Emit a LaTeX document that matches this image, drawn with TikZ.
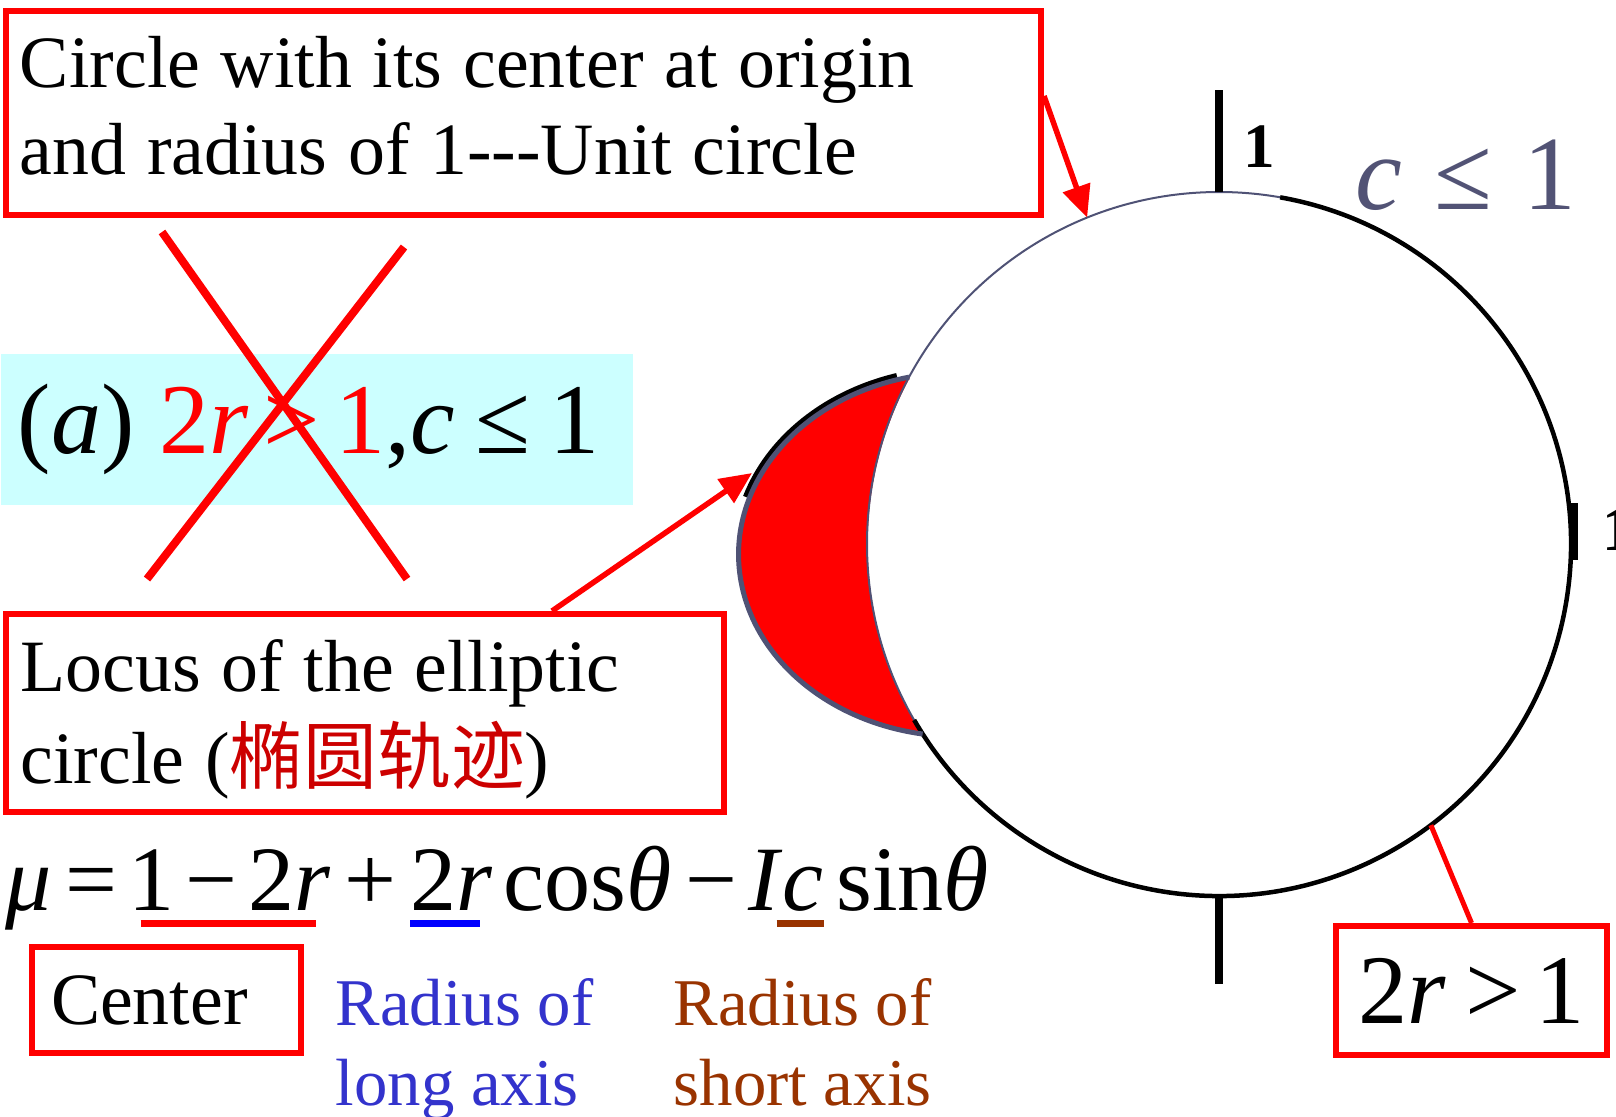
\documentclass[tikz,border=0pt]{standalone}
\usepackage{fontspec}
\setmainfont{Liberation Serif}
\newfontfamily\cjkfont{Noto Sans CJK SC}
\usetikzlibrary{arrows.meta,positioning,calc}
\definecolor{boxRed}{HTML}{FF0000}
\definecolor{lociRed}{HTML}{CC0000}
\definecolor{rimGrey}{HTML}{4F5275}
\definecolor{condGrey}{HTML}{525375}
\definecolor{panelCyan}{HTML}{CCFFFF}
\definecolor{longBlue}{HTML}{3333CC}
\definecolor{lineBlue}{HTML}{0000FF}
\definecolor{shortBrown}{HTML}{993300}
% coloured underline: colour, left inset, right inset, text
\newcommand\colul[4]{\setbox0=\hbox{#4}\dimen2=\wd0\advance\dimen2 by -#2\advance\dimen2 by -#3%
  \rlap{\hspace{#2}\textcolor{#1}{\rule[-4.8pt]{\dimen2}{2pt}}}\box0}
\newcommand\tightsp{\spaceskip=0.28em\relax}
\tikzset{
  redbox/.style={rectangle, draw=boxRed, line width=0.6mm, inner ysep=0pt, anchor=north west, align=left},
  freetext/.style={inner sep=0pt, anchor=base west, align=left},
  redarrow/.style={-{Triangle[length=3.2mm,width=2.8mm]}, draw=boxRed, line width=0.55mm},
  redline/.style={draw=boxRed, line width=0.5mm},
  crossline/.style={draw=boxRed, line width=0.8mm},
  tickline/.style={draw=black, line width=0.75mm},
  ticklabel/.style={font=\fontsize{18}{18}\selectfont\bfseries, inner sep=0pt, anchor=base west},
}

\begin{document}
\begin{tikzpicture}[x=0.1mm,y=-0.1mm]
  \useasboundingbox (0,0) rectangle (1616,1116);

  % Unit circle and the elliptic locus
  \coordinate (O) at (1219,544);
  \coordinate (E) at (958.5,554.3);
  \fill[boxRed] (O) ++(208.3:352) arc[start angle=257, end angle=99.4, x radius=220, y radius=182]
    arc[start angle=147.5, end angle=208.3, radius=352] -- cycle;
  \draw[rimGrey, line width=0.2mm] (O) circle[radius=352];
  \draw[black, line width=0.45mm] (O) ++(-80:352) arc[start angle=-80, end angle=150, radius=352];
  \draw[black, line width=0.5mm] (E) ++(254:224 and 186) arc[start angle=254, end angle=198, x radius=224, y radius=186];
  \draw[rimGrey, line width=0.5mm] (O) ++(208.3:352) arc[start angle=257, end angle=99.4, x radius=220, y radius=182];

  % Axis ticks
  \draw[tickline] (O) ++(0,-352) coordinate (ytop) -- ++(0,-102);
  \draw[tickline] (O) ++(0,352) coordinate (ybot) -- ++(0,88);
  \draw[tickline] (1574,503) -- (1574,560);
  \node[ticklabel] (onetop) at (1243,167) {1};
  \node[ticklabel] (oneright) at (1602,550) {1};
  \node[freetext, text=condGrey, font=\fontsize{30}{30}\selectfont] (cright) at (1355,209) {\textit{c}\hspace{0.3em}≤\hspace{0.3em}1};

  % Boxes with labels
  \node[redbox, minimum width=103.5mm, minimum height=20.4mm, text width=100.7mm, inner xsep=1.4mm,
    font=\fontsize{21}{24.8}\selectfont] (unitbox) at (3,8)
    {\tightsp Circle with its center at origin\\\tightsp and radius of 1-{}-{}-Unit circle\rule[-1.6mm]{0pt}{0pt}};
  \node[rectangle, fill=panelCyan, anchor=north west, minimum width=61.5mm, minimum height=15.1mm,
    text width=59.8mm, inner xsep=1.7mm, inner ysep=0pt, align=left, font=\fontsize{28.5}{28.5}\selectfont] (casepanel) at (0,353)
    {(\textit{a})\hspace{0.25em}\textcolor{boxRed}{2\textit{r}\hspace{0.15em}>\hspace{0.15em}1},\textit{c}\hspace{0.2em}≤\hspace{0.2em}1};
  \node[redbox, minimum width=71.8mm, minimum height=19.8mm, text width=68.9mm, inner xsep=1.45mm,
    font=\fontsize{21}{26.3}\selectfont] (locibox) at (3,611)
    {\tightsp\rule{0pt}{6.5mm}Locus of the elliptic\\\tightsp circle (\textcolor{lociRed}{\cjkfont 椭圆轨迹})};
  \node[redbox, minimum width=26.9mm, minimum height=10.6mm, text width=24.9mm, inner xsep=1mm,
    font=\fontsize{21}{21}\selectfont] (centerbox) at (29,944) {\hspace{0.9mm}Center};
  \node[redbox, minimum width=27.1mm, minimum height=12.9mm, align=center,
    font=\fontsize{28}{28}\selectfont] (condbox) at (1333,923) {2\textit{r}\hspace{0.2em}>\hspace{0.15em}1};

  % Formula with its underlined parts
  \node[freetext, font=\fontsize{26.2}{26.2}\selectfont] (formula) at (5,910)
    {\textit{μ}\hspace{0.15em}=\hspace{0.12em}\colul{boxRed}{1.2mm}{1.5mm}{1\hspace{0.12em}−\hspace{0.12em}2\textit{r}}\hspace{0.15em}+\hspace{0.15em}\colul{lineBlue}{0mm}{1.3mm}{2\textit{r}}\hspace{0.12em}cos\textit{θ}\hspace{0.15em}−\hspace{0.12em}\textit{I}\colul{shortBrown}{-0.6mm}{0mm}{\textit{c}}\hspace{0.14em}sin\textit{θ}};
  \node[freetext, text=longBlue, font=\fontsize{19}{22.7}\selectfont] (longtxt) at (335,1105) {Radius of\\long axis};
  \node[freetext, text=shortBrown, font=\fontsize{19}{22.7}\selectfont] (shorttxt) at (673,1105) {Radius of\\short axis};

  % Cross over the wrong case
  \draw[crossline] (162,232) -- (407,579);
  \draw[crossline] (404,247) -- (147,579);

  % Connectors
  \coordinate (unitpt) at ($(O)+(248:352)$);
  \coordinate (crestip) at (752,473);
  \coordinate (rimpt) at ($(O)+(53:352)$);
  \draw[redarrow] ([yshift=1.7mm]unitbox.east) -- (unitpt);
  \draw[redarrow] ([xshift=54.9mm]locibox.north west) -- (crestip);
  \draw[redline] (condbox.north) -- (rimpt);
\end{tikzpicture}
\end{document}
